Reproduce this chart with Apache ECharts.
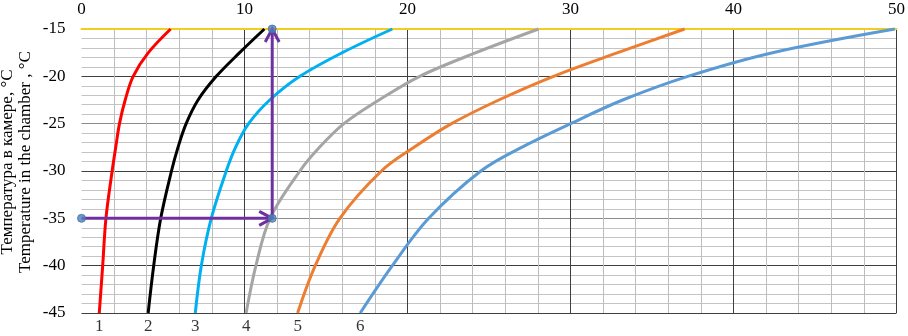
<!DOCTYPE html>
<html>
<head>
<meta charset="utf-8">
<script src="https://cdn.jsdelivr.net/npm/echarts@6/dist/echarts.min.js"></script>
<style>
html,body{margin:0;padding:0;background:#fff;}
#main{width:908px;height:336px;}
</style>
</head>
<body>
<div id="main"></div>
<script>
// ---- data ----
var yLevels = [-45, -40, -35, -30, -27.5, -25, -22.5, -20, -17.5, -15];
var curve1 = [1.09, 1.30, 1.50, 1.88, 2.10, 2.33, 2.68, 3.17, 4.10, 5.47];
var curve2 = [4.09, 4.43, 4.86, 5.52, 5.92, 6.42, 7.15, 8.27, 9.70, 11.22];
var curve3 = [6.98, 7.35, 7.96, 8.88, 9.45, 10.25, 11.55, 13.40, 16.00, 19.07];
var curve4 = [10.10, 10.70, 11.57, 13.40, 14.60, 16.10, 18.26, 20.75, 24.20, 28.04];
var curve5 = [13.26, 14.34, 15.85, 18.40, 20.40, 22.70, 25.60, 28.96, 32.90, 37.00];
var curve6 = [17.10, 19.07, 21.30, 24.50, 27.00, 30.00, 33.20, 37.20, 42.40, 49.90];
var curveNames = ['1', '2', '3', '4', '5', '6'];
var arrowH = [0, -35, 11.7, -35];
var arrowV = [11.7, -35, 11.7, -15];
var markerPts = [[0, -35], [11.7, -35], [11.7, -15]];
var xTickLabels = [0, 10, 20, 30, 40, 50];
var yTickLabels = [-45, -40, -35, -30, -25, -20, -15];
var yTitle = 'Температура в камере, °С\nTemperature in the chamber , °С';

// ---- styles ----
var colors = ['#ff0000', '#000000', '#00b0f0', '#a5a5a5', '#ed7d31', '#5b9bd5'];
var FONT = '"Liberation Serif", "Times New Roman", serif';
var curves = [curve1, curve2, curve3, curve4, curve5, curve6];

var series = curves.map(function (xs, k) {
  return {
    type: 'line',
    data: yLevels.map(function (y, i) { return [xs[i], y]; }),
    smooth: 0.35, showSymbol: false, symbol: 'none',
    lineStyle: { color: colors[k], width: 3 }, z: 3, clip: false
  };
});

// curve number labels at the lower end of each curve
series.push({
  type: 'scatter', symbol: 'circle', symbolSize: 2, clip: false, z: 6,
  itemStyle: { color: 'rgba(255,255,255,0)' },
  data: curves.map(function (xs, k) { return { value: [xs[0], yLevels[0]], name: curveNames[k] }; }),
  label: {
    show: true, position: 'bottom', distance: 4, formatter: '{b}',
    color: '#000', fontFamily: FONT, fontSize: 17
  }
});

function arrowRender(params, api) {
  var p0 = api.coord([api.value(0), api.value(1)]);
  var p1 = api.coord([api.value(2), api.value(3)]);
  var ang = Math.atan2(p1[1] - p0[1], p1[0] - p0[0]);
  var L = 13, W = 7;
  var bx = p1[0] - L * Math.cos(ang), by = p1[1] - L * Math.sin(ang);
  var nx = -Math.sin(ang), ny = Math.cos(ang);
  var st = { stroke: '#7030a0', lineWidth: 3, fill: null };
  return {
    type: 'group',
    children: [
      { type: 'line', shape: { x1: p0[0], y1: p0[1], x2: p1[0], y2: p1[1] }, style: st },
      { type: 'polyline', shape: { points: [[bx + nx * W, by + ny * W], [p1[0], p1[1]], [bx - nx * W, by - ny * W]] }, style: st }
    ]
  };
}

series.push({
  type: 'custom', renderItem: arrowRender, data: [arrowH, arrowV], z: 4, clip: false,
  encode: { x: [0, 2], y: [1, 3] }
});
series.push({
  type: 'scatter', data: markerPts, symbol: 'circle', symbolSize: 8, z: 5, clip: false,
  itemStyle: { color: '#4f81bd', borderColor: '#41719c', borderWidth: 1 }
});

var chart = echarts.init(document.getElementById('main'), null, { renderer: 'canvas' });
chart.setOption({
  animation: false,
  backgroundColor: '#fff',
  grid: { left: 81.5, right: 9, top: 29, bottom: 23, containLabel: false },
  xAxis: {
    type: 'value', position: 'top', min: xTickLabels[0], max: xTickLabels[xTickLabels.length - 1], interval: 10,
    axisLine: { show: true, onZero: false, lineStyle: { color: '#f2cd1f', width: 2 } },
    axisTick: { show: false },
    axisLabel: { margin: 11, color: '#000', fontFamily: FONT, fontSize: 17 },
    splitLine: { show: true, showMinLine: false, lineStyle: { color: '#3f3f3f', width: 1 } },
    minorTick: { show: false, splitNumber: 5 },
    minorSplitLine: { show: true, lineStyle: { color: '#bdbdbd', width: 1 } }
  },
  yAxis: {
    type: 'value', min: yTickLabels[0], max: yTickLabels[yTickLabels.length - 1], interval: 5,
    axisLine: { show: false },
    axisTick: { show: false },
    axisLabel: { margin: 16, color: '#000', fontFamily: FONT, fontSize: 17 },
    splitLine: {
      show: true,
      lineStyle: { color: ['#3f3f3f', '#3f3f3f', '#8c8c8c', '#3f3f3f', '#8c8c8c', '#3f3f3f', '#f2cd1f'], width: 1 }
    },
    minorTick: { show: false, splitNumber: 5 },
    minorSplitLine: { show: true, lineStyle: { color: '#c4c4c4', width: 1 } }
  },
  graphic: [{
    type: 'text', x: 17, y: 162, rotation: Math.PI / 2,
    style: {
      text: yTitle, fill: '#000', font: '17px ' + FONT,
      align: 'center', verticalAlign: 'middle', lineHeight: 18
    }
  }],
  series: series
});
</script>
</body>
</html>
